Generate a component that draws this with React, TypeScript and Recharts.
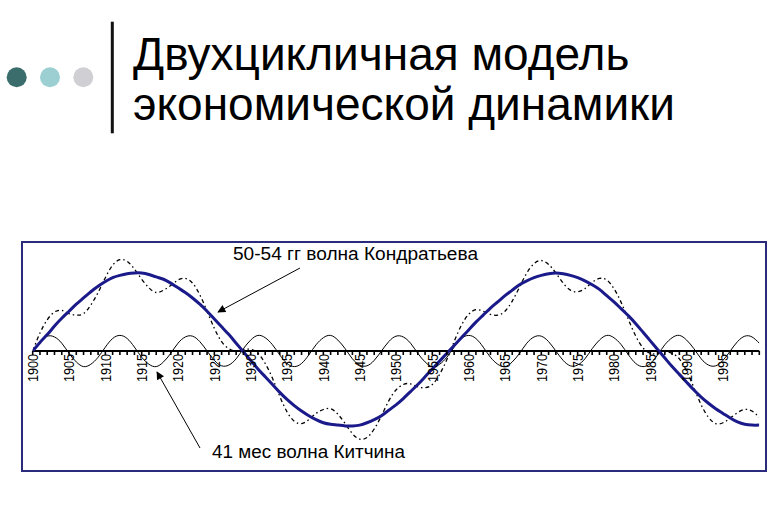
import React from 'react';
import { LineChart, Line, XAxis, YAxis, ReferenceLine } from 'recharts';

// years on the x axis, one point per year
const startYear = 1900;
const labelYears = [1900, 1905, 1910, 1915, 1920, 1925, 1930, 1935, 1940, 1945, 1950, 1955, 1960, 1965, 1970, 1975, 1980, 1985, 1990, 1995];

// 50-54 гг волна Кондратьева (thick blue)
const kondratiev = [
  0.00, 0.11, 0.21, 0.32, 0.42, 0.51, 0.60, 0.68, 0.76, 0.83,
  0.89, 0.94, 0.97, 0.99, 1.00, 1.00, 0.98, 0.95, 0.92, 0.87,
  0.81, 0.75, 0.68, 0.60, 0.51, 0.41, 0.31, 0.21, 0.10, -0.01,
  -0.12, -0.23, -0.33, -0.43, -0.53, -0.62, -0.70, -0.77, -0.83, -0.88,
  -0.92, -0.94, -0.95, -0.96, -0.96, -0.95, -0.92, -0.88, -0.83, -0.76,
  -0.69, -0.61, -0.52, -0.43, -0.33, -0.23, -0.13, -0.03, 0.07, 0.17,
  0.27, 0.37, 0.46, 0.55, 0.63, 0.71, 0.78, 0.85, 0.90, 0.94,
  0.97, 0.99, 1.00, 0.99, 0.97, 0.94, 0.90, 0.85, 0.79, 0.71,
  0.63, 0.54, 0.45, 0.35, 0.24, 0.13, 0.02, -0.09, -0.20, -0.30,
  -0.40, -0.50, -0.59, -0.67, -0.74, -0.80, -0.86, -0.91, -0.94, -0.95,
  -0.95,
];

// 41 мес волна Китчина (thin black)
const kitchin = [
  0.00, 0.12, 0.19, 0.18, 0.10, -0.03, -0.14, -0.20, -0.17, -0.08,
  0.05, 0.16, 0.20, 0.16, 0.05, -0.08, -0.17, -0.20, -0.14, -0.03,
  0.10, 0.18, 0.19, 0.12, 0.00, -0.12, -0.19, -0.18, -0.10, 0.03,
  0.14, 0.20, 0.17, 0.08, -0.05, -0.16, -0.20, -0.16, -0.05, 0.08,
  0.17, 0.20, 0.14, 0.03, -0.10, -0.18, -0.19, -0.12, 0.00, 0.12,
  0.19, 0.18, 0.10, -0.03, -0.14, -0.20, -0.17, -0.08, 0.05, 0.16,
  0.20, 0.16, 0.05, -0.08, -0.17, -0.20, -0.14, -0.03, 0.10, 0.18,
  0.19, 0.12, 0.00, -0.12, -0.19, -0.18, -0.10, 0.03, 0.14, 0.20,
  0.17, 0.08, -0.05, -0.16, -0.20, -0.16, -0.05, 0.08, 0.17, 0.20,
  0.14, 0.03, -0.10, -0.18, -0.19, -0.12, 0.00, 0.12, 0.19, 0.18,
  0.10,
];

// combined wave (dash-dot black)
const combined = [
  0.00, 0.23, 0.40, 0.50, 0.52, 0.48, 0.46, 0.48, 0.59, 0.75,
  0.94, 1.10, 1.17, 1.15, 1.05, 0.92, 0.81, 0.75, 0.78, 0.84,
  0.91, 0.93, 0.87, 0.72, 0.51, 0.29, 0.12, 0.03, 0.00, 0.02,
  0.02, -0.03, -0.16, -0.35, -0.58, -0.78, -0.90, -0.93, -0.88, -0.80,
  -0.75, -0.74, -0.81, -0.93, -1.06, -1.13, -1.11, -1.00, -0.83, -0.64,
  -0.50, -0.43, -0.42, -0.46, -0.47, -0.43, -0.30, -0.11, 0.12, 0.33,
  0.47, 0.53, 0.51, 0.47, 0.46, 0.51, 0.64, 0.82, 1.00, 1.12,
  1.16, 1.11, 1.00, 0.87, 0.78, 0.76, 0.80, 0.88, 0.93, 0.91,
  0.80, 0.62, 0.40, 0.19, 0.04, -0.03, -0.03, -0.01, -0.03, -0.10,
  -0.26, -0.47, -0.69, -0.85, -0.93, -0.92, -0.86, -0.79, -0.75, -0.77,
  -0.85,
];

const years = kondratiev.map((_, i) => startYear + i);
const data = years.map((year, i) => ({
  year,
  kondratiev: kondratiev[i],
  kitchin: kitchin[i],
  combined: combined[i],
}));

const FONT = '"Liberation Sans", Arial, sans-serif';
const Y_MIN = -1.5;
const Y_MAX = 1.4;
const PLOT_TOP = 241.8;
const PLOT_BOTTOM = 468;
const X_AXIS_H = 30;
// distance from the plot bottom up to the zero line, where the axis is drawn
const AXIS_SHIFT = ((0 - Y_MIN) / (Y_MAX - Y_MIN)) * (PLOT_BOTTOM - PLOT_TOP);

const YearTick = (props: any) => {
  const { x, y, payload } = props;
  const y0 = y - AXIS_SHIFT;
  const yr = payload.value;
  return (
    <g>
      <line x1={x} y1={y0} x2={x} y2={y0 + 4} stroke="#000" strokeWidth={1.6} />
      {labelYears.includes(yr) && (
        <text
          x={x}
          y={y0 + 3}
          transform={`rotate(-90 ${x} ${y0 + 3})`}
          textAnchor="end"
          dy="0.36em"
          fontSize={15}
          textLength={28}
          lengthAdjust="spacingAndGlyphs"
          fontFamily={FONT}
          fill="#000"
        >
          {yr}
        </text>
      )}
    </g>
  );
};

export default function App() {
  return (
    <div style={{ position: 'absolute', left: 0, top: 0, width: 776, height: 528, background: '#fff', overflow: 'hidden' }}>
      <svg width={776} height={140} style={{ position: 'absolute', left: 0, top: 0 }}>
        <circle cx={16.7} cy={77.3} r={10} fill="#3c6d6d" />
        <circle cx={50} cy={77.3} r={10} fill="#9bcfd1" />
        <circle cx={83.3} cy={77.3} r={10} fill="#cfcfd4" />
        <rect x={110.8} y={21.7} width={3} height={111.6} fill="#111" />
        <text x={133} y={70} fontSize={46} fontFamily={FONT} fill="#000">Двухцикличная модель</text>
        <text x={133} y={120} fontSize={46} fontFamily={FONT} fill="#000">экономической динамики</text>
      </svg>

      <div
        style={{
          position: 'absolute',
          left: 21,
          top: 241,
          width: 746,
          height: 231,
          border: '2px solid #2b2b7e',
          boxSizing: 'border-box',
        }}
      />

      <div style={{ position: 'absolute', left: 0, top: 0 }}>
        <LineChart
          width={776}
          height={528}
          data={data}
          margin={{ top: PLOT_TOP, left: 32.7, right: 776 - 759.3, bottom: 528 - PLOT_BOTTOM - X_AXIS_H }}
        >
          <XAxis
            type="number"
            dataKey="year"
            domain={[1900, 2000]}
            ticks={years}
            interval={0}
            allowDataOverflow
            axisLine={false}
            tickLine={false}
            tickSize={0}
            tickMargin={0}
            height={X_AXIS_H}
            tick={YearTick}
          />
          <YAxis hide domain={[Y_MIN, Y_MAX]} allowDataOverflow />
          <ReferenceLine y={0} stroke="#000" strokeWidth={2} />
          <Line type="natural" dataKey="kitchin" stroke="#000" strokeWidth={1} dot={false} isAnimationActive={false} />
          <Line type="natural" dataKey="combined" stroke="#000" strokeWidth={1.3} strokeDasharray="4 3 1.5 3" dot={false} isAnimationActive={false} />
          <Line type="natural" dataKey="kondratiev" stroke="#1a1a8a" strokeWidth={3} dot={false} isAnimationActive={false} />
        </LineChart>
      </div>

      <svg width={776} height={528} style={{ position: 'absolute', left: 0, top: 0, pointerEvents: 'none' }}>
        <defs>
          <marker id="arrowHead" viewBox="0 0 10 10" refX="9" refY="5" markerWidth="10" markerHeight="8" markerUnits="userSpaceOnUse" orient="auto">
            <path d="M0,0 L10,5 L0,10 z" fill="#000" />
          </marker>
        </defs>
        <text x={233} y={260} fontSize={17.5} textLength={245} lengthAdjust="spacingAndGlyphs" fontFamily={FONT} fill="#000">50-54 гг волна Кондратьева</text>
        <line x1={300} y1={268} x2={218} y2={312} stroke="#000" strokeWidth={1} markerEnd="url(#arrowHead)" />
        <text x={212} y={458} fontSize={17.5} textLength={193} lengthAdjust="spacingAndGlyphs" fontFamily={FONT} fill="#000">41 мес волна Китчина</text>
        <line x1={200} y1={448} x2={157} y2={372} stroke="#000" strokeWidth={1} markerEnd="url(#arrowHead)" />
      </svg>
    </div>
  );
}
